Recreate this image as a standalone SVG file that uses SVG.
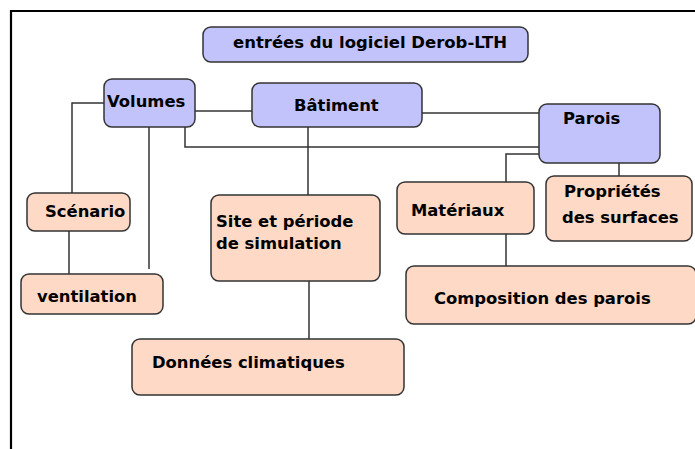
<svg xmlns="http://www.w3.org/2000/svg" width="695" height="449" viewBox="0 0 695 449">
  <style>
    .blue { fill: #c3c3fc; stroke: #333333; stroke-width: 1.5; }
    .peach { fill: #fdd9c6; stroke: #333333; stroke-width: 1.5; }
    .lbl { font-family: "DejaVu Sans", Verdana, sans-serif; font-weight: bold; font-size: 16.4px; fill: #000000; }
    .link { fill: none; stroke: #333333; stroke-width: 1.5; }
  </style>
  <rect x="0" y="0" width="695" height="449" fill="#ffffff"/>
  <!-- page frame (top and left edges) -->
  <path d="M11,449 V11 H695" fill="none" stroke="#000000" stroke-width="2.2"/>

  <g id="connectors">
    <path class="link" d="M104,103 H72 V193"/>
    <path class="link" d="M69,231 V274"/>
    <path class="link" d="M149,127 V269"/>
    <path class="link" d="M195,111 H252"/>
    <path class="link" d="M185,127 V147 H539"/>
    <path class="link" d="M308,127 V195"/>
    <path class="link" d="M422,113 H539"/>
    <path class="link" d="M539,154 H506 V182"/>
    <path class="link" d="M619,163 V176"/>
    <path class="link" d="M506,234 V266"/>
    <path class="link" d="M309,281 V339"/>
  </g>

  <g id="title">
    <rect class="blue" x="203" y="27" width="325" height="35" rx="8"/>
    <text class="lbl" x="233" y="48" textLength="274" lengthAdjust="spacingAndGlyphs">entrées du logiciel Derob-LTH</text>
  </g>
  <g id="volumes">
    <rect class="blue" x="104" y="79" width="91" height="48" rx="8"/>
    <text class="lbl" x="107" y="107">Volumes</text>
  </g>
  <g id="batiment">
    <rect class="blue" x="252" y="83" width="170" height="44" rx="8"/>
    <text class="lbl" x="294" y="111">Bâtiment</text>
  </g>
  <g id="parois">
    <rect class="blue" x="539" y="104" width="121" height="59" rx="8"/>
    <text class="lbl" x="563" y="124">Parois</text>
  </g>
  <g id="scenario">
    <rect class="peach" x="27" y="193" width="103" height="38" rx="8"/>
    <text class="lbl" x="45" y="217">Scénario</text>
  </g>
  <g id="ventilation">
    <rect class="peach" x="21" y="274" width="142" height="40" rx="8"/>
    <text class="lbl" x="37" y="302">ventilation</text>
  </g>
  <g id="site">
    <rect class="peach" x="211" y="195" width="169" height="86" rx="8"/>
    <text class="lbl" x="216" y="227">Site et période</text>
    <text class="lbl" x="216" y="249">de simulation</text>
  </g>
  <g id="donnees">
    <rect class="peach" x="132" y="339" width="272" height="56" rx="8"/>
    <text class="lbl" x="152" y="368">Données climatiques</text>
  </g>
  <g id="materiaux">
    <rect class="peach" x="397" y="182" width="137" height="52" rx="8"/>
    <text class="lbl" x="411" y="216">Matériaux</text>
  </g>
  <g id="proprietes">
    <rect class="peach" x="546" y="176" width="146" height="65" rx="8"/>
    <text class="lbl" x="564" y="197">Propriétés</text>
    <text class="lbl" x="562" y="223">des surfaces</text>
  </g>
  <g id="composition">
    <rect class="peach" x="406" y="266" width="290" height="58" rx="8"/>
    <text class="lbl" x="434" y="304">Composition des parois</text>
  </g>
</svg>
